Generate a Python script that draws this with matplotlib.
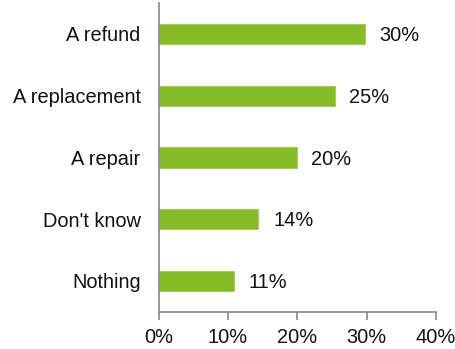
import matplotlib.pyplot as plt

plt.rcParams['font.family'] = ['Liberation Sans', 'DejaVu Sans']

answers = ['A refund', 'A replacement', 'A repair', "Don't know", 'Nothing']
shares = [29.7, 25.4, 19.9, 14.4, 10.8]
xticks = [0, 10, 20, 30, 40]

fig = plt.figure(figsize=(4.56, 3.49), dpi=100)
ax = fig.add_axes([0.348, 0.107, 0.608, 0.884])

pos = list(range(len(answers)))
ax.barh(pos, shares, height=0.33, color='#86bc25', edgecolor='#9ccc4a', linewidth=0.6)
for p, v in zip(pos, shares):
    ax.text(v + 2.1, p + 0.03, '{:.0f}%'.format(v), va='center', ha='left', fontsize=14.4, color='#111111')

ax.set_ylim(len(answers) - 0.5, -0.5)
ax.set_xlim(0, 40)
ax.set_yticks(pos)
ax.set_yticklabels(answers, fontsize=14.4, color='#111111')
ax.set_xticks(xticks)
ax.set_xticklabels(['{}%'.format(t) for t in xticks], fontsize=14.4, color='#111111')

ax.spines['top'].set_visible(False)
ax.spines['right'].set_visible(False)
ax.spines['left'].set_color('#888888')
ax.spines['bottom'].set_color('#888888')
ax.spines['left'].set_linewidth(1.2)
ax.spines['bottom'].set_linewidth(1.2)
ax.tick_params(axis='y', length=0, pad=13)
ax.tick_params(axis='x', length=6, width=1.2, color='#888888', pad=6)

fig.savefig('out.png', dpi=100)
